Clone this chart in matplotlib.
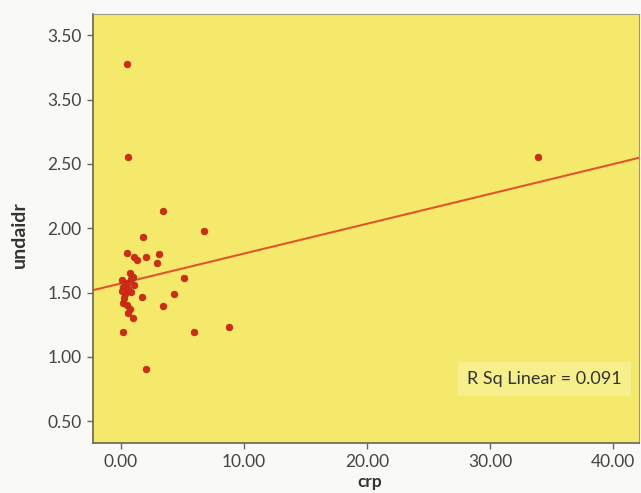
import numpy as np
import matplotlib
matplotlib.use("Agg")
import matplotlib.pyplot as plt

plt.rcParams['font.family'] = ['Lato', 'DejaVu Sans']

crp = [0.51, 0.54, 3.44, 6.75, 1.76, 0.51, 1.06, 1.27, 2.03, 3.06, 2.9, 5.12,
       1.71, 4.33, 3.44, 0.19, 5.93, 8.8, 2.03, 33.9,
       0.73, 0.95, 0.06, 0.46, 1.06, 0.19, 0.79, 0.33, 0.19, 0.46, 0.73, 0.6,
       1.0, 0.25, 0.57, 0.1, 0.8]
undaidr = [3.28, 2.555, 2.135, 1.975, 1.928, 1.809, 1.773, 1.752, 1.778, 1.799,
           1.726, 1.614, 1.464, 1.488, 1.394, 1.192, 1.192, 1.233, 0.904, 2.553,
           1.649, 1.622, 1.596, 1.575, 1.558, 1.544, 1.505, 1.492, 1.420, 1.402,
           1.369, 1.342, 1.299, 1.46, 1.526, 1.51, 1.604]

fit_intercept = 1.571
fit_slope = 0.0232
r_sq_text = "R Sq Linear = 0.091"

x_ticks = [0, 10, 20, 30, 40]
x_ticklabels = ["0.00", "10.00", "20.00", "30.00", "40.00"]
y_ticks = [0.5, 1.0, 1.5, 2.0, 2.5, 3.0, 3.5]
y_ticklabels = ["0.50", "1.00", "1.50", "2.00", "2.50", "3.50", "3.50"]

fig = plt.figure(figsize=(6.41, 4.93), dpi=100, facecolor="#f9f9f7")
ax = fig.add_axes([0.145, 0.1014, 0.852, 0.870])
ax.set_facecolor("#f5e96c")

xlim = (-2.28, 42.1)
ylim = (0.33, 3.665)
ax.set_xlim(*xlim)
ax.set_ylim(*ylim)

xs = np.array(xlim)
ax.plot(xs, fit_intercept + fit_slope * xs, color="#e0562a", lw=1.5, zorder=2)

ax.scatter(crp, undaidr, s=22, color="#d9261a", edgecolors="#b0300f",
           linewidths=0.6, zorder=3)

ax.text(34.4, 0.825, r_sq_text, ha="center", va="center", fontsize=13,
        color="#333333",
        bbox=dict(boxstyle="square,pad=0.5", fc="#f7ee8c", ec="none"))

ax.set_xticks(x_ticks)
ax.set_xticklabels(x_ticklabels)
ax.set_yticks(y_ticks)
ax.set_yticklabels(y_ticklabels)
ax.tick_params(axis="both", direction="out", length=4, width=1,
               color="#666666", labelcolor="#444444", labelsize=12.5, pad=4)

for s in ["left", "bottom"]:
    ax.spines[s].set_color("#666655")
    ax.spines[s].set_linewidth(1.2)
for s in ["top", "right"]:
    ax.spines[s].set_color("#999988")
    ax.spines[s].set_linewidth(0.8)

ax.set_xlabel("crp", fontsize=12.5, fontweight="bold", color="#333333", va="center")
ax.set_ylabel("undaidr", fontsize=14, fontweight="bold", color="#333333", va="center")
ax.xaxis.set_label_coords(0.507, -0.091)
ax.yaxis.set_label_coords(-0.134, 0.487)

fig.savefig("out.png", dpi=100, facecolor=fig.get_facecolor())
